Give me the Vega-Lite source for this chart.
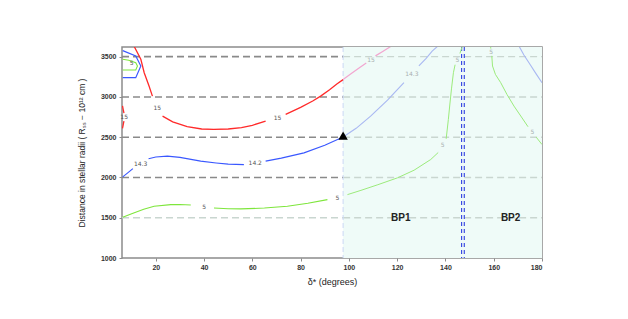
{
  "$schema": "https://vega.github.io/schema/vega-lite/v6.json",
  "width": 420,
  "height": 211,
  "autosize": {"type": "none"},
  "padding": {"left": 122, "top": 47, "right": 86, "bottom": 61},
  "config": {
    "view": {"stroke": "#8c8c8c", "strokeWidth": 1.5},
    "font": "Liberation Sans",
    "axis": {"grid": false, "domain": false, "labelFontSize": 7, "labelFontWeight": "bold", "labelColor": "#333333", "tickColor": "#8c8c8c", "tickSize": 3, "titleFontWeight": "normal", "titleColor": "#222222"}
  },
  "datasets": {
    "lines": [
      {"id": "r1", "g": "red", "o": 1, "x": 11.0, "y": 3630},
      {"id": "r1", "g": "red", "o": 2, "x": 13.8, "y": 3467},
      {"id": "r1", "g": "red", "o": 3, "x": 15.2, "y": 3301},
      {"id": "r1", "g": "red", "o": 4, "x": 17.2, "y": 3135},
      {"id": "r1", "g": "red", "o": 5, "x": 18.6, "y": 3010},
      {"id": "r2", "g": "red", "o": 1, "x": 22.8, "y": 2761},
      {"id": "r2", "g": "red", "o": 2, "x": 27, "y": 2690},
      {"id": "r2", "g": "red", "o": 3, "x": 33, "y": 2630},
      {"id": "r2", "g": "red", "o": 4, "x": 39, "y": 2602},
      {"id": "r2", "g": "red", "o": 5, "x": 44, "y": 2596},
      {"id": "r2", "g": "red", "o": 6, "x": 50, "y": 2602},
      {"id": "r2", "g": "red", "o": 7, "x": 55.5, "y": 2620},
      {"id": "r2", "g": "red", "o": 8, "x": 60, "y": 2648},
      {"id": "r2", "g": "red", "o": 9, "x": 65.5, "y": 2699},
      {"id": "r3", "g": "red", "o": 1, "x": 73.8, "y": 2783},
      {"id": "r3", "g": "red", "o": 2, "x": 80, "y": 2870},
      {"id": "r3", "g": "red", "o": 3, "x": 85, "y": 2950},
      {"id": "r3", "g": "red", "o": 4, "x": 88.3, "y": 3010},
      {"id": "r3", "g": "red", "o": 5, "x": 92, "y": 3090},
      {"id": "r3", "g": "red", "o": 6, "x": 95, "y": 3160},
      {"id": "r3", "g": "red", "o": 7, "x": 97.6, "y": 3215},
      {"id": "r4", "g": "redPale", "o": 1, "x": 97.6, "y": 3215},
      {"id": "r4", "g": "redPale", "o": 2, "x": 101, "y": 3290},
      {"id": "r4", "g": "redPale", "o": 3, "x": 104.5, "y": 3365},
      {"id": "r4", "g": "redPale", "o": 4, "x": 107.2, "y": 3420},
      {"id": "r5", "g": "redPale", "o": 1, "x": 111, "y": 3510},
      {"id": "r5", "g": "redPale", "o": 2, "x": 114, "y": 3565},
      {"id": "r5", "g": "redPale", "o": 3, "x": 117.5, "y": 3630},
      {"id": "r6", "g": "red", "o": 1, "x": 6.2, "y": 2890},
      {"id": "r6", "g": "red", "o": 2, "x": 6.8, "y": 2800},
      {"id": "r7", "g": "red", "o": 1, "x": 6.8, "y": 2700},
      {"id": "r7", "g": "red", "o": 2, "x": 6.2, "y": 2610},
      {"id": "b1", "g": "blue", "o": 1, "x": 6.3, "y": 2007},
      {"id": "b1", "g": "blue", "o": 2, "x": 8.5, "y": 2060},
      {"id": "b1", "g": "blue", "o": 3, "x": 10.5, "y": 2110},
      {"id": "b2", "g": "blue", "o": 1, "x": 17, "y": 2232},
      {"id": "b2", "g": "blue", "o": 2, "x": 20, "y": 2254},
      {"id": "b2", "g": "blue", "o": 3, "x": 24.8, "y": 2264},
      {"id": "b2", "g": "blue", "o": 4, "x": 30, "y": 2250},
      {"id": "b2", "g": "blue", "o": 5, "x": 38.6, "y": 2202},
      {"id": "b2", "g": "blue", "o": 6, "x": 45, "y": 2180},
      {"id": "b2", "g": "blue", "o": 7, "x": 50, "y": 2166},
      {"id": "b2", "g": "blue", "o": 8, "x": 56.5, "y": 2160},
      {"id": "b3", "g": "blue", "o": 1, "x": 65.5, "y": 2202},
      {"id": "b3", "g": "blue", "o": 2, "x": 72, "y": 2240},
      {"id": "b3", "g": "blue", "o": 3, "x": 81.4, "y": 2306},
      {"id": "b3", "g": "blue", "o": 4, "x": 90, "y": 2400},
      {"id": "b3", "g": "blue", "o": 5, "x": 97.6, "y": 2503},
      {"id": "b4", "g": "bluePale", "o": 1, "x": 97.6, "y": 2503},
      {"id": "b4", "g": "bluePale", "o": 2, "x": 103, "y": 2610},
      {"id": "b4", "g": "bluePale", "o": 3, "x": 109, "y": 2761},
      {"id": "b4", "g": "bluePale", "o": 4, "x": 116, "y": 2960},
      {"id": "b4", "g": "bluePale", "o": 5, "x": 122.8, "y": 3177},
      {"id": "b5", "g": "bluePale", "o": 1, "x": 129, "y": 3385},
      {"id": "b5", "g": "bluePale", "o": 2, "x": 132, "y": 3480},
      {"id": "b5", "g": "bluePale", "o": 3, "x": 134.5, "y": 3570},
      {"id": "b5", "g": "bluePale", "o": 4, "x": 136.8, "y": 3630},
      {"id": "b6", "g": "bluePale", "o": 1, "x": 170.5, "y": 3630},
      {"id": "b6", "g": "bluePale", "o": 2, "x": 172.5, "y": 3520},
      {"id": "b6", "g": "bluePale", "o": 3, "x": 175, "y": 3405},
      {"id": "b6", "g": "bluePale", "o": 4, "x": 177.5, "y": 3290},
      {"id": "b6", "g": "bluePale", "o": 5, "x": 180, "y": 3177},
      {"id": "g1", "g": "green", "o": 1, "x": 6.3, "y": 1505},
      {"id": "g1", "g": "green", "o": 2, "x": 10, "y": 1550},
      {"id": "g1", "g": "green", "o": 3, "x": 15, "y": 1605},
      {"id": "g1", "g": "green", "o": 4, "x": 19.3, "y": 1642},
      {"id": "g1", "g": "green", "o": 5, "x": 26.2, "y": 1663},
      {"id": "g1", "g": "green", "o": 6, "x": 30, "y": 1665},
      {"id": "g1", "g": "green", "o": 7, "x": 34.5, "y": 1657},
      {"id": "g2", "g": "green", "o": 1, "x": 44.1, "y": 1622},
      {"id": "g2", "g": "green", "o": 2, "x": 50, "y": 1612},
      {"id": "g2", "g": "green", "o": 3, "x": 55.2, "y": 1610},
      {"id": "g2", "g": "green", "o": 4, "x": 65, "y": 1620},
      {"id": "g2", "g": "green", "o": 5, "x": 74.5, "y": 1642},
      {"id": "g2", "g": "green", "o": 6, "x": 83, "y": 1680},
      {"id": "g2", "g": "green", "o": 7, "x": 91.1, "y": 1725},
      {"id": "g3", "g": "greenPale", "o": 1, "x": 99.4, "y": 1787},
      {"id": "g3", "g": "greenPale", "o": 2, "x": 105, "y": 1840},
      {"id": "g3", "g": "greenPale", "o": 3, "x": 112, "y": 1910},
      {"id": "g3", "g": "greenPale", "o": 4, "x": 120.1, "y": 1995},
      {"id": "g3", "g": "greenPale", "o": 5, "x": 127, "y": 2090},
      {"id": "g3", "g": "greenPale", "o": 6, "x": 133.9, "y": 2223},
      {"id": "g3", "g": "greenPale", "o": 7, "x": 137, "y": 2310},
      {"id": "g4", "g": "greenPale", "o": 1, "x": 140.3, "y": 2480},
      {"id": "g4", "g": "greenPale", "o": 2, "x": 141.2, "y": 2720},
      {"id": "g4", "g": "greenPale", "o": 3, "x": 141.8, "y": 2900},
      {"id": "g4", "g": "greenPale", "o": 4, "x": 142.5, "y": 3100},
      {"id": "g4", "g": "greenPale", "o": 5, "x": 143.3, "y": 3301},
      {"id": "g4", "g": "greenPale", "o": 6, "x": 144, "y": 3400},
      {"id": "g5", "g": "greenPale", "o": 1, "x": 146, "y": 3540},
      {"id": "g5", "g": "greenPale", "o": 2, "x": 147, "y": 3630},
      {"id": "g6", "g": "greenPale", "o": 1, "x": 159.2, "y": 3510},
      {"id": "g6", "g": "greenPale", "o": 2, "x": 159.5, "y": 3384},
      {"id": "g6", "g": "greenPale", "o": 3, "x": 160.7, "y": 3280},
      {"id": "g6", "g": "greenPale", "o": 4, "x": 162.9, "y": 3177},
      {"id": "g6", "g": "greenPale", "o": 5, "x": 165.5, "y": 3030},
      {"id": "g6", "g": "greenPale", "o": 6, "x": 168.4, "y": 2886},
      {"id": "g6", "g": "greenPale", "o": 7, "x": 171.5, "y": 2750},
      {"id": "g6", "g": "greenPale", "o": 8, "x": 174.2, "y": 2630},
      {"id": "g7", "g": "greenPale", "o": 1, "x": 177.6, "y": 2500},
      {"id": "g7", "g": "greenPale", "o": 2, "x": 180, "y": 2409},
      {"id": "g8", "g": "greenPale", "o": 1, "x": 158.7, "y": 3630},
      {"id": "g8", "g": "greenPale", "o": 2, "x": 158.8, "y": 3600},
      {"id": "bp", "g": "blue", "o": 1, "x": 6.3, "y": 3575},
      {"id": "bp", "g": "blue", "o": 2, "x": 11.7, "y": 3508},
      {"id": "bp", "g": "blue", "o": 3, "x": 13.8, "y": 3384},
      {"id": "bp", "g": "blue", "o": 4, "x": 11.7, "y": 3239},
      {"id": "bp", "g": "blue", "o": 5, "x": 6.3, "y": 3239},
      {"id": "gp", "g": "green", "o": 1, "x": 6.3, "y": 3467},
      {"id": "gp", "g": "green", "o": 2, "x": 8.8, "y": 3455},
      {"id": "gp", "g": "green", "o": 3, "x": 11.7, "y": 3425},
      {"id": "gp", "g": "green", "o": 4, "x": 12.4, "y": 3384},
      {"id": "gp", "g": "green", "o": 5, "x": 11.7, "y": 3334},
      {"id": "gp", "g": "green", "o": 6, "x": 6.3, "y": 3334}
    ],
    "labels": [
      {"t": "15", "x": 20.6, "y": 2857, "tone": "dark"},
      {"t": "15", "x": 70.4, "y": 2735, "tone": "dark"},
      {"t": "15", "x": 6.9, "y": 2750, "tone": "dark"},
      {"t": "15", "x": 109.2, "y": 3462, "tone": "pale"},
      {"t": "14.3", "x": 13.7, "y": 2170, "tone": "dark"},
      {"t": "14.2", "x": 61.2, "y": 2182, "tone": "dark"},
      {"t": "14.3", "x": 126.1, "y": 3282, "tone": "pale"},
      {"t": "5", "x": 40, "y": 1632, "tone": "dark"},
      {"t": "5", "x": 95.2, "y": 1750, "tone": "dark"},
      {"t": "5", "x": 10, "y": 3420, "tone": "dark"},
      {"t": "5", "x": 138.8, "y": 2397, "tone": "pale"},
      {"t": "5", "x": 145, "y": 3462, "tone": "pale"},
      {"t": "5", "x": 158.9, "y": 3560, "tone": "pale"},
      {"t": "5", "x": 176, "y": 2560, "tone": "pale"}
    ],
    "hrules": [
      {"y": 3500, "x": 6, "x2": 97.6, "k": "dark"},
      {"y": 3000, "x": 6, "x2": 97.6, "k": "dark"},
      {"y": 2500, "x": 6, "x2": 97.6, "k": "dark"},
      {"y": 2000, "x": 6, "x2": 97.6, "k": "dark"},
      {"y": 1500, "x": 6, "x2": 97.6, "k": "light"},
      {"y": 3500, "x": 97.6, "x2": 180, "k": "light"},
      {"y": 3000, "x": 97.6, "x2": 180, "k": "light"},
      {"y": 2500, "x": 97.6, "x2": 180, "k": "light"},
      {"y": 2000, "x": 97.6, "x2": 180, "k": "light"},
      {"y": 1500, "x": 97.6, "x2": 180, "k": "light"}
    ],
    "vrules": [
      {"x": 97.6, "k": "edge"},
      {"x": 146.7, "k": "bp"},
      {"x": 147.8, "k": "bp"}
    ],
    "regions": [
      {"name": "BP1", "x": 121.5, "y": 1500},
      {"name": "BP2", "x": 167, "y": 1500}
    ],
    "marker": [{"x": 97.6, "y": 2520}]
  },
  "layer": [
    {
      "data": {"values": [{"x": 97.6, "x2": 180}]},
      "mark": {"type": "rect", "fill": "#effbf8"},
      "encoding": {
        "x": {"field": "x", "type": "quantitative", "scale": {"domain": [6, 180], "nice": false, "zero": false},
          "axis": {"values": [20, 40, 60, 80, 100, 120, 140, 160, 180], "format": "d", "title": "δ* (degrees)", "titleFontSize": 9, "titlePadding": 7}},
        "x2": {"field": "x2"},
        "y": {"datum": 1000, "type": "quantitative", "scale": {"domain": [1000, 3620], "nice": false, "zero": false},
          "axis": {"values": [1000, 1500, 2000, 2500, 3000, 3500], "format": "d", "title": "Distance in stellar radii ( Rₛₛ − 10¹² cm )", "titleFontSize": 8.5, "titlePadding": 14, "labelPadding": 3}},
        "y2": {"datum": 3620}
      }
    },
    {
      "data": {"name": "hrules"},
      "transform": [{"filter": "datum.k === 'dark'"}],
      "mark": {"type": "rule", "strokeDash": [7, 4], "color": "#8a8a8a", "strokeWidth": 1.6},
      "encoding": {
        "x": {"field": "x", "type": "quantitative"},
        "x2": {"field": "x2"},
        "y": {"field": "y", "type": "quantitative"}
      }
    },
    {
      "data": {"name": "hrules"},
      "transform": [{"filter": "datum.k === 'light'"}],
      "mark": {"type": "rule", "strokeDash": [7, 4], "color": "#c9d6d0", "strokeWidth": 1.4},
      "encoding": {
        "x": {"field": "x", "type": "quantitative"},
        "x2": {"field": "x2"},
        "y": {"field": "y", "type": "quantitative"}
      }
    },
    {
      "data": {"name": "vrules"},
      "transform": [{"filter": "datum.k === 'edge'"}],
      "mark": {"type": "rule", "strokeDash": [5, 3], "color": "#cbd8f5", "strokeWidth": 1},
      "encoding": {
        "x": {"field": "x", "type": "quantitative"}
      }
    },
    {
      "data": {"name": "vrules"},
      "transform": [{"filter": "datum.k === 'bp'"}],
      "mark": {"type": "rule", "strokeDash": [4, 3], "color": "#2f3fe0", "strokeWidth": 1.1},
      "encoding": {
        "x": {"field": "x", "type": "quantitative"}
      }
    },
    {
      "data": {"name": "lines"},
      "mark": {"type": "line", "interpolate": "linear", "clip": true},
      "encoding": {
        "x": {"field": "x", "type": "quantitative"},
        "y": {"field": "y", "type": "quantitative"},
        "detail": {"field": "id"},
        "order": {"field": "o"},
        "color": {"field": "g", "type": "nominal", "scale": {"domain": ["red", "redPale", "blue", "bluePale", "green", "greenPale"], "range": ["#ff2a2a", "#f2a6d0", "#3a58ff", "#a9b8f2", "#7ee63c", "#9ceb7c"]}, "legend": null},
        "strokeWidth": {"field": "g", "type": "nominal", "scale": {"domain": ["red", "redPale", "blue", "bluePale", "green", "greenPale"], "range": [1.3, 1, 1.4, 1, 1.4, 1]}, "legend": null}
      }
    },
    {
      "data": {"name": "labels"},
      "transform": [{"filter": "datum.tone === 'dark'"}],
      "mark": {"type": "text", "fontSize": 6, "font": "DejaVu Sans", "color": "#555555"},
      "encoding": {
        "x": {"field": "x", "type": "quantitative"},
        "y": {"field": "y", "type": "quantitative"},
        "text": {"field": "t"}
      }
    },
    {
      "data": {"name": "labels"},
      "transform": [{"filter": "datum.tone === 'pale'"}],
      "mark": {"type": "text", "fontSize": 6, "font": "DejaVu Sans", "color": "#a8b0b0"},
      "encoding": {
        "x": {"field": "x", "type": "quantitative"},
        "y": {"field": "y", "type": "quantitative"},
        "text": {"field": "t"}
      }
    },
    {
      "data": {"name": "regions"},
      "mark": {"type": "text", "fontSize": 10, "fontWeight": "bold", "color": "#222222"},
      "encoding": {
        "x": {"field": "x", "type": "quantitative"},
        "y": {"field": "y", "type": "quantitative"},
        "text": {"field": "name"}
      }
    },
    {
      "data": {"name": "marker"},
      "mark": {"type": "point", "shape": "triangle-up", "filled": true, "color": "#000000", "opacity": 1, "size": 90},
      "encoding": {
        "x": {"field": "x", "type": "quantitative"},
        "y": {"field": "y", "type": "quantitative"}
      }
    }
  ]
}
